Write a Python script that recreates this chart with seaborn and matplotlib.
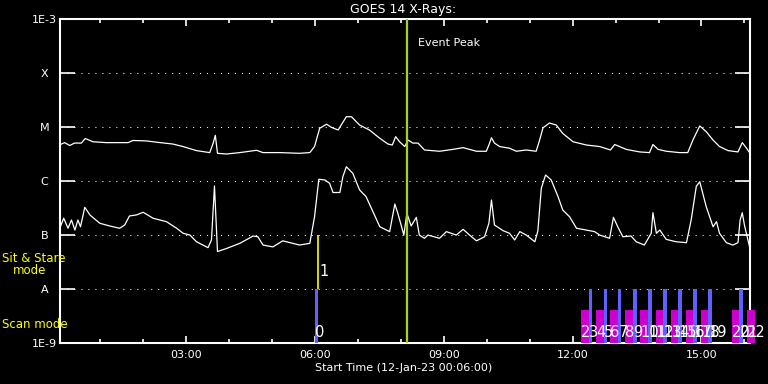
import matplotlib
matplotlib.use("Agg")
import pandas as pd
import matplotlib.pyplot as plt
from matplotlib.ticker import FixedLocator, NullLocator, MultipleLocator
import seaborn as sns

# ---------------- data (hours after 00:00, 12-Jan-23; flux in W/m^2) ----------------
long_hours = [0.07, 0.17, 0.29, 0.40, 0.56, 0.65, 0.83, 1.14, 1.65, 1.76, 2.07, 2.31, 2.69,
              2.93, 3.24, 3.55, 3.63, 3.68, 3.73, 3.94, 4.25, 4.64, 4.79, 5.18, 5.64, 5.88,
              5.99, 6.11, 6.27, 6.38, 6.54, 6.61, 6.73, 6.85, 7.04, 7.27, 7.51, 7.70, 7.80,
              7.88, 7.97, 8.09, 8.17, 8.28, 8.40, 8.55, 8.90, 9.21, 9.45, 9.76, 9.99, 10.05,
              10.11, 10.18, 10.30, 10.53, 10.69, 10.92, 11.15, 11.22, 11.31, 11.46, 11.62,
              11.77, 12.01, 12.32, 12.63, 12.88, 12.98, 13.09, 13.25, 13.56, 13.79, 13.87,
              13.99, 14.18, 14.49, 14.68, 14.80, 14.96, 15.11, 15.27, 15.42, 15.62, 15.85,
              15.95, 16.04, 16.12]
long_flux = [4.8e-6, 5.2e-6, 4.6e-6, 5.1e-6, 5.1e-6, 6.2e-6, 5.4e-6, 5.2e-6, 5.2e-6, 5.7e-6,
             5.6e-6, 5.3e-6, 4.9e-6, 4.4e-6, 3.7e-6, 3.4e-6, 5.1e-6, 7.1e-6, 3.3e-6, 3.2e-6,
             3.4e-6, 3.75e-6, 3.4e-6, 3.4e-6, 3.3e-6, 3.4e-6, 4.4e-6, 9.6e-6, 1.14e-5, 1.0e-5,
             8.9e-6, 1.1e-5, 1.57e-5, 1.57e-5, 1.1e-5, 8.9e-6, 6.25e-6, 4.9e-6, 4.7e-6, 6.7e-6,
             5.4e-6, 4.4e-6, 5.8e-6, 5.1e-6, 5.1e-6, 3.8e-6, 3.6e-6, 3.9e-6, 4.2e-6, 3.6e-6,
             3.6e-6, 4.7e-6, 6.4e-6, 5.1e-6, 4.4e-6, 4.1e-6, 3.6e-6, 3.8e-6, 3.6e-6, 5.4e-6,
             9.8e-6, 1.2e-5, 1.1e-5, 7.7e-6, 5.4e-6, 4.7e-6, 4.4e-6, 3.8e-6, 4.8e-6, 4.4e-6,
             3.9e-6, 3.5e-6, 3.4e-6, 4.8e-6, 3.9e-6, 3.6e-6, 3.4e-6, 3.4e-6, 5.8e-6, 1.06e-5,
             8.3e-6, 5.8e-6, 4.4e-6, 3.7e-6, 3.5e-6, 5.2e-6, 4.2e-6, 3.4e-6]

short_hours = [0.07, 0.15, 0.25, 0.33, 0.41, 0.48, 0.54, 0.64, 0.76, 0.99, 1.22, 1.45, 1.57,
               1.68, 1.84, 2.00, 2.23, 2.54, 2.78, 2.93, 3.09, 3.24, 3.51, 3.59, 3.66, 3.73,
               3.94, 4.25, 4.56, 4.67, 4.79, 5.02, 5.25, 5.64, 5.88, 5.99, 6.09, 6.23, 6.34,
               6.42, 6.58, 6.65, 6.73, 6.88, 7.04, 7.19, 7.51, 7.74, 7.86, 7.93, 8.07, 8.14,
               8.24, 8.36, 8.43, 8.55, 8.63, 8.90, 9.06, 9.29, 9.45, 9.60, 9.76, 9.95, 10.05,
               10.11, 10.18, 10.38, 10.53, 10.65, 10.77, 10.92, 11.12, 11.19, 11.27, 11.37,
               11.50, 11.66, 11.77, 11.93, 12.09, 12.32, 12.51, 12.63, 12.86, 12.95, 13.05,
               13.17, 13.36, 13.48, 13.67, 13.83, 13.87, 13.95, 14.03, 14.18, 14.41, 14.65,
               14.76, 14.88, 14.96, 15.11, 15.27, 15.35, 15.42, 15.58, 15.73, 15.85, 15.90,
               15.95, 16.00, 16.12]
short_flux = [1.44e-7, 2.07e-7, 1.35e-7, 1.92e-7, 1.25e-7, 1.92e-7, 1.44e-7, 3.3e-7, 2.38e-7,
              1.67e-7, 1.49e-7, 1.35e-7, 1.55e-7, 2.28e-7, 2.38e-7, 2.67e-7, 2.07e-7, 1.79e-7,
              1.35e-7, 1.09e-7, 1.01e-7, 7.6e-8, 5.9e-8, 8.2e-8, 8.2e-7, 5.0e-8, 5.7e-8, 7.1e-8,
              9.7e-8, 9.4e-8, 6.6e-8, 6.1e-8, 7.9e-8, 6.6e-8, 7.1e-8, 2.2e-7, 1.09e-6, 1.06e-6,
              9.2e-7, 6.2e-7, 6.2e-7, 1.22e-6, 1.86e-6, 1.41e-6, 6.9e-7, 5.2e-7, 1.44e-7, 1.17e-7,
              3.8e-7, 2.55e-7, 1.01e-7, 2.55e-7, 1.49e-7, 2.15e-7, 1.01e-7, 8.8e-8, 1.01e-7,
              8.8e-8, 1.17e-7, 1.01e-7, 1.29e-7, 1.01e-7, 7.9e-8, 9.4e-8, 1.67e-7, 4.5e-7,
              1.55e-7, 1.22e-7, 1.09e-7, 8.2e-8, 1.17e-7, 1.01e-7, 7.6e-8, 1.2e-7, 7.4e-7,
              1.31e-6, 1.06e-6, 5.2e-7, 2.94e-7, 2.2e-7, 1.35e-7, 1.25e-7, 1.17e-7, 1.01e-7,
              8.8e-8, 2.15e-7, 1.44e-7, 9.4e-8, 9.7e-8, 7.6e-8, 6.6e-8, 1.09e-7, 2.62e-7,
              1.09e-7, 1.25e-7, 8.4e-8, 7.6e-8, 7.3e-8, 1.92e-7, 8.1e-7, 9.8e-7, 3.4e-7,
              1.44e-7, 1.79e-7, 1.09e-7, 7.3e-8, 6.6e-8, 7.3e-8, 1.92e-7, 2.62e-7, 1.55e-7,
              6.1e-8]

goes_levels = [1e-9, 1e-8, 1e-7, 1e-6, 1e-5, 1e-4, 1e-3]
goes_labels = ['1E-9', 'A', 'B', 'C', 'M', 'X', '1E-3']
time_ticks = [3, 6, 9, 12, 15]
time_labels = ['03:00', '06:00', '09:00', '12:00', '15:00']
event_peak = 8.15

# observing programme markers
sit_stare_times = [6.06]
sit_stare_ids = [1]
scan_times = [6.03, 12.41, 12.76, 13.10, 13.45, 13.80, 14.15, 14.50, 14.85, 15.20, 15.92]
scan_ids = [0, 3, 5, 7, 9, 11, 13, 15, 17, 19, 21]
raster_start = [12.19, 12.54, 12.88, 13.23, 13.58, 13.93, 14.30, 14.65, 15.00, 15.70, 16.05]
raster_ids = [2, 4, 6, 8, 10, 12, 14, 16, 18, 20, 22]
raster_len = 0.20

sns.set_theme(style="dark", rc={
    'figure.facecolor': 'black', 'axes.facecolor': 'black', 'savefig.facecolor': 'black',
    'axes.edgecolor': 'white', 'text.color': 'white', 'axes.labelcolor': 'white',
    'xtick.color': 'white', 'ytick.color': 'white', 'axes.grid': False,
})
plt.rcParams['font.family'] = ['DejaVu Sans']

fig = plt.figure(figsize=(7.68, 3.84), dpi=100)
ax = fig.add_axes([60.3 / 768, 1 - 343.3 / 384, 689.7 / 768, 324 / 384])

long_df = pd.DataFrame({'hour': long_hours, 'flux': long_flux})
short_df = pd.DataFrame({'hour': short_hours, 'flux': short_flux})
sns.lineplot(data=long_df, x='hour', y='flux', ax=ax, color='white', lw=0.9,
             estimator=None, sort=False, legend=False)
sns.lineplot(data=short_df, x='hour', y='flux', ax=ax, color='white', lw=0.9,
             estimator=None, sort=False, legend=False)

ax.set_yscale('log')
ax.set_ylim(1e-9, 1e-3)
ax.set_xlim(0.07, 16.13)

# dotted GOES class lines
for lev in goes_levels[1:-1]:
    ax.axhline(lev, color='white', lw=0.75, ls=(0, (1, 5.7)), zorder=1)

# event peak
ax.axvline(event_peak, color='#a6d21a', lw=1.6, zorder=3)
ax.text(event_peak + 0.25, 3.6e-4, 'Event Peak', fontsize=8, color='white', va='center')

# sit & stare / scan markers
ax.vlines(sit_stare_times, 1e-8, 1e-7, color='#ffff00', lw=1.2, zorder=4)
for t, n in zip(sit_stare_times, sit_stare_ids):
    ax.text(t + 0.05, 2.1e-8, str(n), fontsize=10.5, color='white', va='center')

ax.bar(raster_start, [4.1e-9 - 1e-9] * len(raster_start), bottom=1e-9, width=raster_len,
       align='edge', color='#cc00cc', lw=0, zorder=4, clip_on=False)
ax.bar(scan_times, [1e-8 - 1e-9] * len(scan_times), bottom=1e-9, width=0.075,
       color='#6060ff', lw=0, zorder=5)
for t, n in zip(raster_start, raster_ids):
    ax.text(t, 1.6e-9, str(n), fontsize=10.5, color='white', va='center', zorder=6)
for t, n in zip(scan_times, scan_ids):
    ax.text(t - 0.03, 1.6e-9, str(n), fontsize=10.5, color='white', va='center', zorder=6)

# axes ticks
ax.yaxis.set_major_locator(FixedLocator(goes_levels))
ax.yaxis.set_minor_locator(NullLocator())
ax.set_yticklabels(goes_labels)
ax.set_xticks(time_ticks)
ax.set_xticklabels(time_labels)
ax.xaxis.set_minor_locator(MultipleLocator(1))
ax.tick_params(axis='y', which='major', direction='in', length=10.8, width=1.2,
               left=True, right=True, labelsize=8, pad=11.5)
ax.tick_params(axis='x', which='major', direction='in', length=5, width=1.2,
               top=True, bottom=True, labelsize=8, pad=5)
ax.tick_params(axis='x', which='minor', direction='in', length=3, width=1.2,
               top=True, bottom=True)
plt.setp(ax.get_yticklabels(), ha='center')
for s in ax.spines.values():
    s.set_color('white')
    s.set_linewidth(1.5)

ax.set_xlabel('')
ax.set_ylabel('')
fig.text(404 / 768, 1 - 368 / 384, 'Start Time (12-Jan-23 00:06:00)', fontsize=8,
         ha='center', va='center', color='white')
fig.text(403 / 768, 1 - 9 / 384, 'GOES 14 X-Rays:', fontsize=9, ha='center',
         va='center', color='white')

# mode labels on the left
fig.text(2 / 768, 1 - 259 / 384, 'Sit & Stare', fontsize=8.5, color='#ffff00', va='center')
fig.text(13 / 768, 1 - 271 / 384, 'mode', fontsize=8.5, color='#ffff00', va='center')
fig.text(2 / 768, 1 - 324 / 384, 'Scan mode', fontsize=8.5, color='#ffff00', va='center')

fig.savefig('out.png', dpi=100, facecolor='black')
